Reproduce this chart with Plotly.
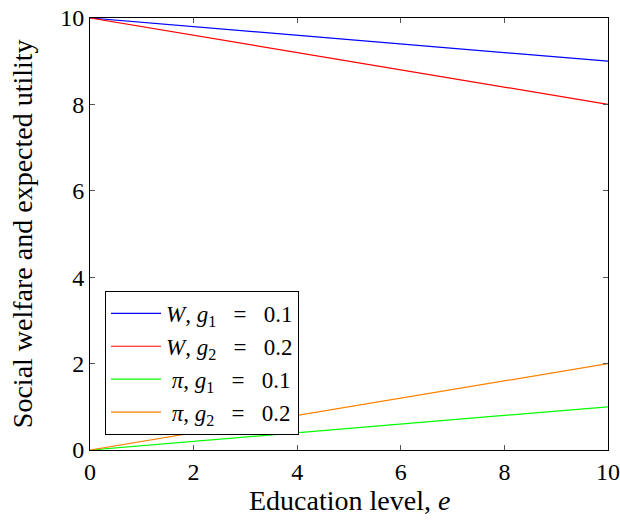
import plotly.graph_objects as go

e_vals = [0, 10]
W_g1 = [10, 9]
W_g2 = [10, 8]
pi_g1 = [0, 1]
pi_g2 = [0, 2]

sp = "\u00a0\u00a0\u00a0"
names = [f"<i>W</i>, <i>g</i><sub>1</sub>{sp}={sp}0.1",
         f"<i>W</i>, <i>g</i><sub>2</sub>{sp}={sp}0.2",
         f"\u00a0<i>π</i>, <i>g</i><sub>1</sub>{sp}={sp}0.1",
         f"\u00a0<i>π</i>, <i>g</i><sub>2</sub>{sp}={sp}0.2"]
series = [W_g1, W_g2, pi_g1, pi_g2]
colors = ["#0000ff", "#ff0000", "#00ff00", "#ff8000"]

tick_vals = [0, 2, 4, 6, 8, 10]
x_title = "Education level, <i>e</i>"
y_title = "Social welfare and expected utility"

fig = go.Figure()
for n, s, c in zip(names, series, colors):
    fig.add_trace(go.Scatter(x=e_vals, y=s, mode="lines", name=n,
                             line=dict(color=c, width=1.2)))

font = "Liberation Serif, Times New Roman, serif"
axis_common = dict(range=[0, 10], tickvals=tick_vals, ticks="inside", ticklen=5,
                   tickcolor="#555", showline=True, linecolor="black", linewidth=1,
                   mirror="ticks", showgrid=False, zeroline=False, automargin=False,
                   tickfont=dict(family=font, size=24, color="black"))
fig.update_layout(
    width=620, height=520,
    margin=dict(l=90, r=12, t=18, b=70),
    paper_bgcolor="white", plot_bgcolor="white",
    font=dict(family=font, size=24, color="black"),
    xaxis=axis_common,
    yaxis=axis_common,
    legend=dict(x=0.029, y=0.035, xanchor="left", yanchor="bottom",
                bordercolor="black", borderwidth=1, bgcolor="white",
                font=dict(family=font, size=23), tracegroupgap=0, itemwidth=50),
    showlegend=True,
    annotations=[
        dict(text=x_title, xref="paper", yref="paper", x=0.5, y=-0.116,
             xanchor="center", yanchor="middle", showarrow=False,
             font=dict(family=font, size=28)),
        dict(text=y_title, xref="paper", yref="paper", x=-0.131, y=0.5,
             xanchor="center", yanchor="middle", showarrow=False, textangle=-90,
             font=dict(family=font, size=28)),
    ],
)
fig.write_html("out.html")
